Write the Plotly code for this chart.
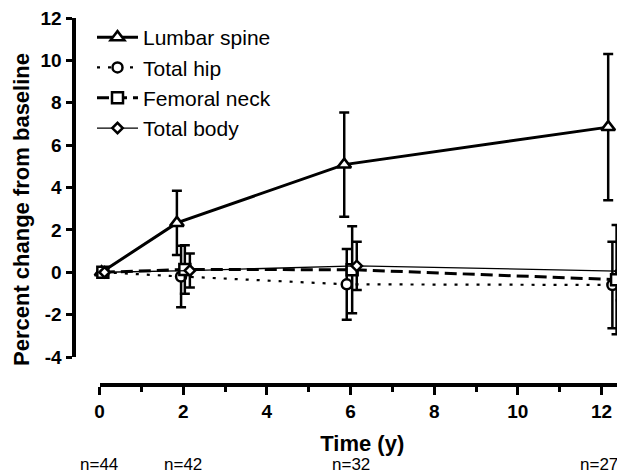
import plotly.graph_objects as go

# ---- data ----
series_names = ["Lumbar spine", "Total hip", "Femoral neck", "Total body"]

lumbar_t = [0.05, 1.85, 5.85, 12.16]
lumbar_y = [0.0, 2.33, 5.08, 6.85]
lumbar_sd = [0.0, 1.52, 2.46, 3.45]

hip_t = [0.08, 1.95, 5.91, 12.26]
hip_y = [0.0, -0.2, -0.57, -0.6]
hip_sd = [0.0, 1.45, 1.67, 2.04]

neck_t = [0.08, 2.04, 6.04, 12.36]
neck_y = [0.0, 0.13, 0.12, -0.35]
neck_sd = [0.0, 1.15, 2.05, 2.58]

body_t = [0.12, 2.16, 6.15, 12.46]
body_y = [0.0, 0.08, 0.3, 0.05]
body_sd = [0.0, 0.8, 1.14, 1.37]

n_times = [0, 2, 6, 12]
n_labels = ["n=44", "n=42", "n=32", "n=27"]

y_ticks = [-4, -2, 0, 2, 4, 6, 8, 10, 12]
y_ticktext = ["-4", "-2", "0", "2", "4", "6", "8", "10", "12"]
x_ticks = [0, 2, 4, 6, 8, 10, 12]

FONT = "Liberation Sans, Arial, Helvetica, sans-serif"

# The page body has an 8px default margin; size the figure so it fills
# the 625x475 window exactly and convert window pixels to paper coords.
OFF = 8
W, H = 625 - OFF, 475 - OFF


def px(x):
    return (x - OFF) / W


def py(y):
    return 1 - (y - OFF) / H


def err(sd):
    return [v if v > 0 else None for v in sd]


styles = [
    dict(symbol="triangle-up", size=12, dash="solid", width=3),
    dict(symbol="circle", size=10, dash="3px,8px", width=2.2),
    dict(symbol="square", size=11, dash="12px,6px", width=3),
    dict(symbol="diamond", size=8, dash="solid", width=1.3),
]
data = [
    (lumbar_t, lumbar_y, lumbar_sd),
    (hip_t, hip_y, hip_sd),
    (neck_t, neck_y, neck_sd),
    (body_t, body_y, body_sd),
]

fig = go.Figure()
for name, (t, y, sd), st in zip(series_names, data, styles):
    fig.add_trace(go.Scatter(
        x=t, y=y, name=name, mode="lines+markers",
        cliponaxis=False,
        line=dict(color="black", width=st["width"], dash=st["dash"]),
        marker=dict(symbol=st["symbol"], size=st["size"], color="white",
                    line=dict(color="black", width=2.5)),
        error_y=dict(type="data", array=err(sd), visible=True,
                     color="black", thickness=2.5, width=5),
    ))

x0px, x1px = 99.5, 625.0
y_top, y_bot = 18.0, 357.0
xdom = [px(x0px), 1.0]
ydom = [py(y_bot), py(y_top)]
x_per = (601.5 - 99.5) / 12.0
x_max = (x1px - x0px) / x_per

fig.update_layout(
    template="none",
    width=W, height=H,
    margin=dict(l=0, r=0, t=0, b=0),
    paper_bgcolor="white", plot_bgcolor="white",
    showlegend=True,
    legend=dict(
        x=px(92), y=py(17), xanchor="left", yanchor="top",
        font=dict(family=FONT, size=21, color="black"),
        bgcolor="rgba(0,0,0,0)", borderwidth=0,
        itemwidth=41, tracegroupgap=0,
    ),
    xaxis=dict(
        domain=xdom, range=[0, x_max], anchor="free",
        position=py(385),
        showgrid=False, zeroline=False,
        showline=True, linecolor="black", linewidth=4,
        tickmode="array", tickvals=x_ticks,
        ticks="outside", ticklen=8, tickwidth=3, tickcolor="black",
        minor=dict(dtick=1, tick0=0, ticks="outside", ticklen=5,
                   tickwidth=3, tickcolor="black", showgrid=False),
        tickfont=dict(family=FONT, size=19, color="black", weight="bold"),
        ticklabeloverflow="allow",
        title=dict(text="Time (y)", standoff=14,
                   font=dict(family=FONT, size=22, color="black",
                             weight="bold")),
        automargin=False,
    ),
    yaxis=dict(
        domain=ydom, range=[-4, 12], anchor="free",
        position=px(73.5),
        showgrid=False, zeroline=False,
        showline=True, linecolor="black", linewidth=4,
        tickmode="array", tickvals=y_ticks, ticktext=y_ticktext,
        ticks="outside", ticklen=6, tickwidth=3, tickcolor="black",
        tickfont=dict(family=FONT, size=19, color="black", weight="bold"),
        ticklabeloverflow="allow",
        automargin=False,
    ),
)

# y-axis title
fig.add_annotation(
    x=px(22), y=py(210), xref="paper", yref="paper",
    text="Percent change from baseline", textangle=-90, showarrow=False,
    font=dict(family=FONT, size=22, color="black", weight="bold"),
    xanchor="center", yanchor="middle",
)

# sample sizes under the x axis
for t, lab in zip(n_times, n_labels):
    fig.add_annotation(
        x=t, y=py(475), xref="x", yref="paper",
        text=lab, showarrow=False,
        font=dict(family=FONT, size=17, color="black"),
        xanchor="center", yanchor="bottom",
        borderpad=0,
        xshift=-3 if t == n_times[-1] else 0,
    )

fig.write_html("out.html")
